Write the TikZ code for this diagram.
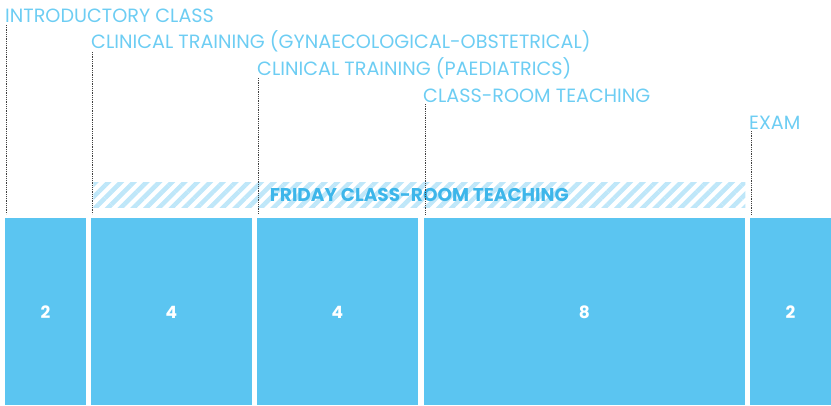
\documentclass[tikz,border=0pt]{standalone}
\usepackage{fontspec}
\setmainfont{Poppins}
\usetikzlibrary{patterns.meta}
\definecolor{boxblue}{HTML}{5BC5F1}
\definecolor{labelblue}{HTML}{6DCDF3}
\definecolor{hatchblue}{HTML}{BFE7F9}
\definecolor{bandtext}{HTML}{3DB6EA}
\tikzset{
  blockbox/.style={fill=boxblue, draw=none, inner sep=0pt, anchor=north west},
  numtext/.style={text=white, font=\fontsize{17}{17}\selectfont\bfseries},
  phaselabel/.style={text=labelblue, anchor=base west, inner sep=0pt, font=\fontsize{19.2}{19.2}\selectfont},
  leader/.style={draw=black!75, densely dotted, line width=0.8pt},
}
\begin{document}
\begin{tikzpicture}[x=1pt,y=-1pt]
\useasboundingbox (0,0) rectangle (831,405);
% blocks
\node[blockbox, minimum width=81pt, minimum height=187pt] (b1) at (5,218) {};
\node[blockbox, minimum width=161pt, minimum height=187pt] (b2) at (91,218) {};
\node[blockbox, minimum width=161pt, minimum height=187pt] (b3) at (257,218) {};
\node[blockbox, minimum width=321pt, minimum height=187pt] (b4) at (424,218) {};
\node[blockbox, minimum width=81pt, minimum height=187pt] (b5) at (750,218) {};
\node[numtext] (n1) at (45.5,312) {2};
\node[numtext] (n2) at (171.5,312) {4};
\node[numtext] (n3) at (337.5,312) {4};
\node[numtext] (n4) at (584.5,312) {8};
\node[numtext] (n5) at (790.5,312) {2};
% hatched band
\node[anchor=north west, minimum width=652pt, minimum height=25pt, inner sep=0pt,
  pattern={Lines[angle=45, distance=9pt, line width=4.5pt]}, pattern color=hatchblue] (band) at (91,180) {};
\node[text=bandtext, font=\fontsize{18.5}{18.5}\selectfont\bfseries, inner sep=0pt] (bandlabel) at (band.center) {FRIDAY CLASS-ROOM TEACHING};
% labels
\node[phaselabel] (l1) at (5,22) {INTRODUCTORY CLASS};
\node[phaselabel] (l2) at (91,48) {CLINICAL TRAINING (GYNAECOLOGICAL-OBSTETRICAL)};
\node[phaselabel] (l3) at (257,75) {CLINICAL TRAINING (PAEDIATRICS)};
\node[phaselabel] (l4) at (423,102) {CLASS-ROOM TEACHING};
\node[phaselabel] (l5) at (749,129) {EXAM};
% leader lines
\coordinate (t1) at (6,25);   \coordinate (e1) at (6,214);
\coordinate (t2) at (92,52);  \coordinate (e2) at (92,214);
\coordinate (t3) at (258,78); \coordinate (e3) at (258,214);
\coordinate (t4) at (425,104);\coordinate (e4) at (425,214);
\coordinate (t5) at (751,131);\coordinate (e5) at (751,214);
\foreach \i in {1,...,5} { \draw[leader] (t\i) -- (e\i); }
\end{tikzpicture}
\end{document}
